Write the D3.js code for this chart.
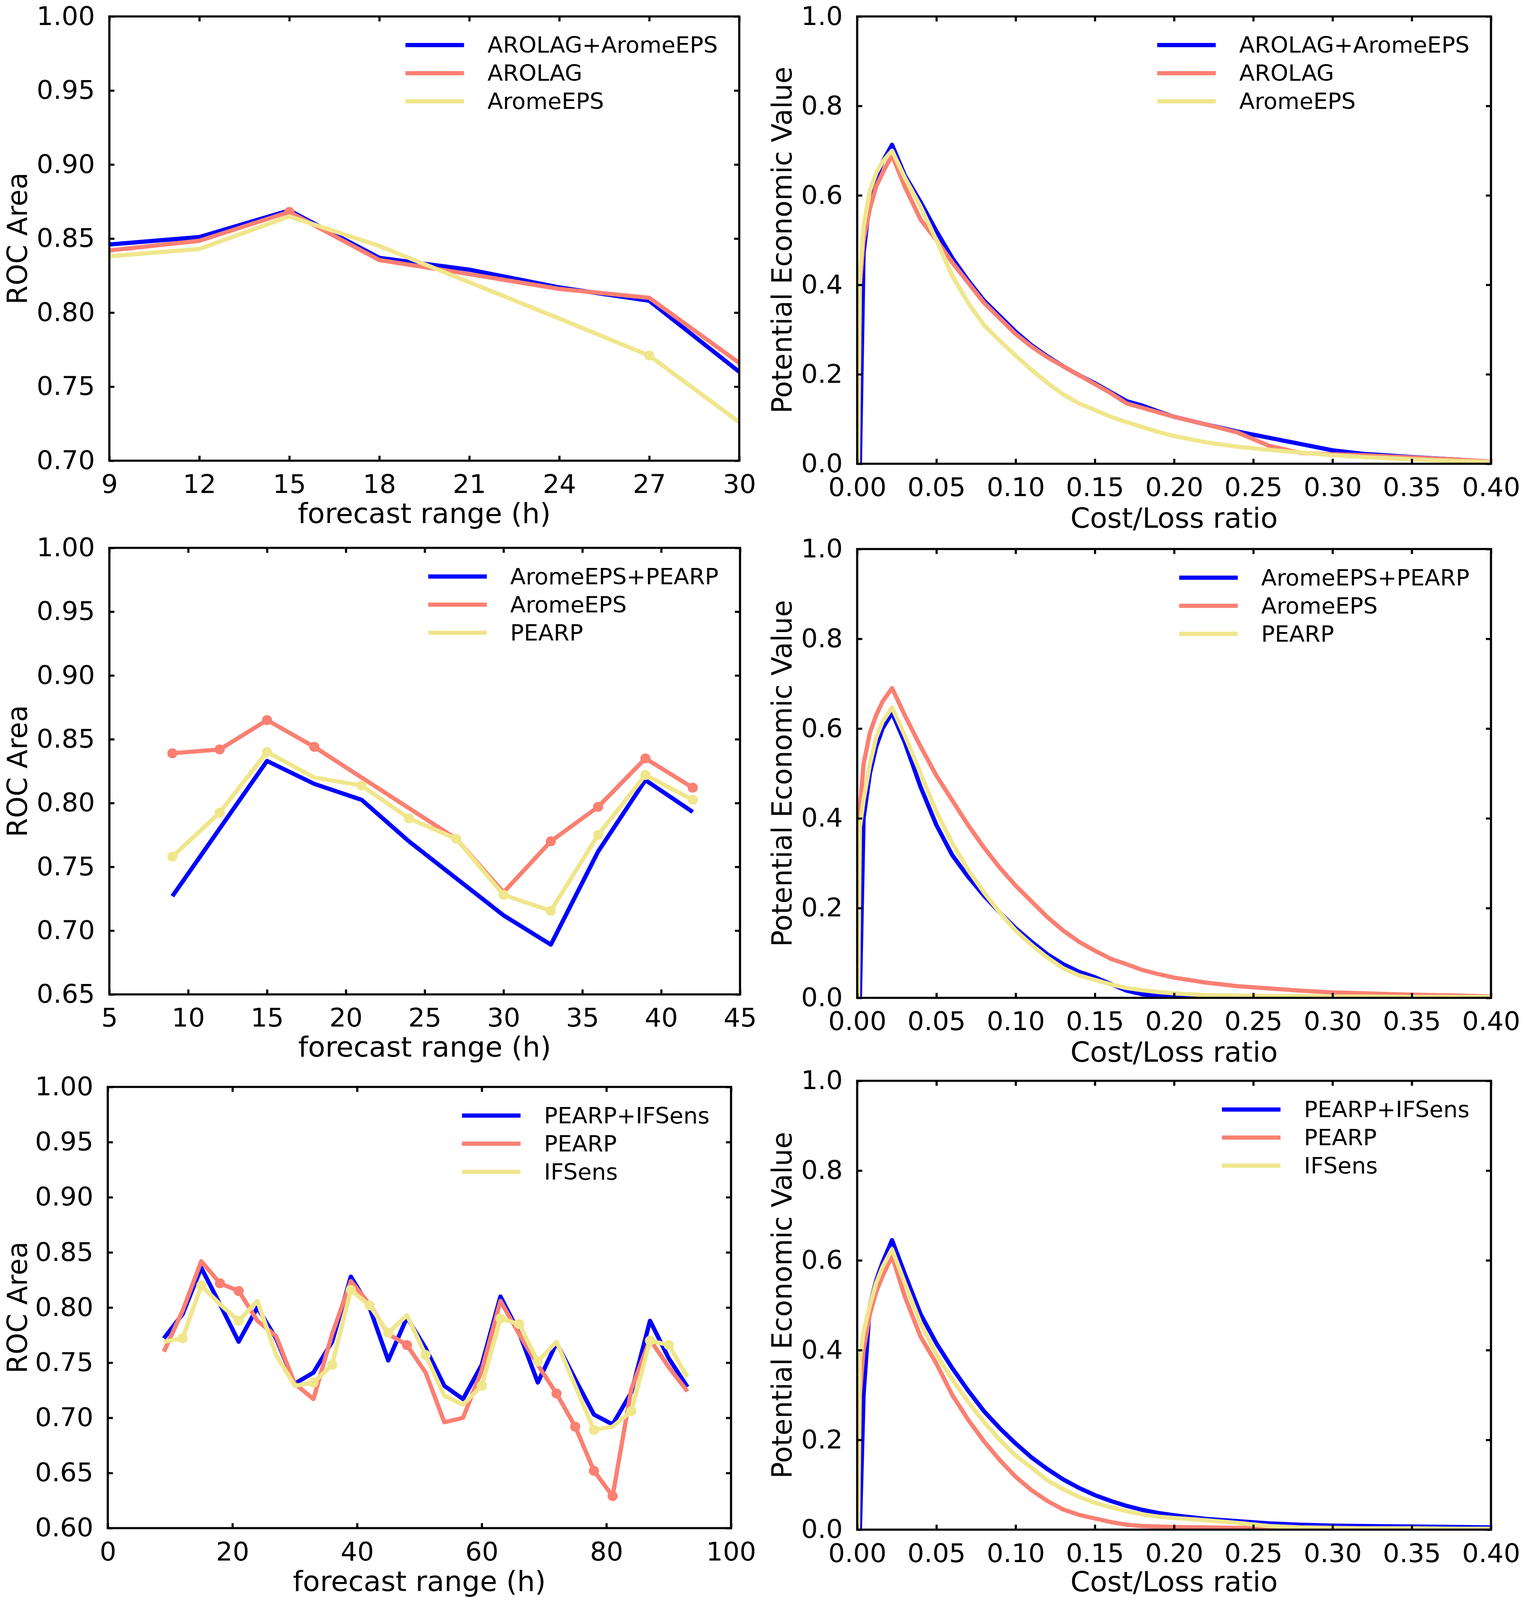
<!DOCTYPE html>
<html>
<head>
<meta charset="utf-8">
<script src="https://cdn.jsdelivr.net/npm/d3@7"></script>
<style>
  html, body { margin: 0; padding: 0; background: #fff; overflow: hidden; }
  svg { display: block; }
</style>
</head>
<body>
<svg id="chart"></svg>
<script>
// ---- data ----

// top row: AROLAG / AromeEPS
var hours1 = [9, 12, 15, 18, 21, 24, 27, 30];
var roc1Combined = [0.846, 0.851, 0.869, 0.837, 0.829, 0.817, 0.808, 0.760];
var roc1Arolag = [0.842, 0.8485, 0.868, 0.8355, 0.826, 0.816, 0.810, 0.766];
var roc1Arome = [0.838, 0.843, 0.865, 0.845, 0.8205, 0.796, 0.771, 0.726];
var marks1Arolag = [2];
var marks1Arome = [6];

// middle row: AromeEPS / PEARP
var hours2 = [9, 12, 15, 18, 21, 24, 27, 30, 33, 36, 39, 42];
var roc2Combined = [0.727, 0.780, 0.833, 0.815, 0.8025, 0.770, 0.741, 0.712, 0.689, 0.762, 0.818, 0.793];
var roc2Arome = [0.839, 0.842, 0.865, 0.844, 0.820, 0.796, 0.772, 0.730, 0.770, 0.797, 0.835, 0.812];
var roc2Pearp = [0.758, 0.7925, 0.840, 0.820, 0.8137, 0.788, 0.772, 0.728, 0.7155, 0.775, 0.822, 0.8025];
var marks2Arome = [0, 1, 2, 3, 8, 9, 10, 11];
var marks2Pearp = [0, 1, 2, 4, 5, 6, 7, 8, 9, 10, 11];

// bottom row: PEARP / IFSens
var hours3 = [9, 12, 15, 18, 21, 24, 27, 30, 33, 36, 39, 42, 45, 48, 51, 54, 57, 60, 63, 66, 69, 72, 75, 78, 81, 84, 87, 90, 93];
var roc3Combined = [0.772, 0.794, 0.836, 0.803, 0.769, 0.800, 0.772, 0.731, 0.741, 0.769, 0.828, 0.800, 0.752, 0.791, 0.763, 0.729, 0.717, 0.748, 0.810, 0.777, 0.732, 0.768, 0.735, 0.703, 0.694, 0.723, 0.788, 0.754, 0.728];
var roc3Pearp = [0.760, 0.797, 0.842, 0.822, 0.815, 0.788, 0.774, 0.731, 0.717, 0.776, 0.824, 0.803, 0.776, 0.766, 0.741, 0.696, 0.700, 0.743, 0.806, 0.776, 0.748, 0.722, 0.692, 0.652, 0.629, 0.726, 0.771, 0.746, 0.724];
var roc3Ifs = [0.769, 0.772, 0.820, 0.803, 0.788, 0.806, 0.757, 0.729, 0.732, 0.748, 0.816, 0.802, 0.777, 0.793, 0.757, 0.720, 0.712, 0.729, 0.790, 0.785, 0.751, 0.769, 0.729, 0.689, 0.692, 0.706, 0.770, 0.766, 0.737];
var marks3Pearp = [3, 4, 13, 21, 22, 23, 24];
var marks3Ifs = [1, 2, 4, 8, 9, 10, 11, 12, 14, 17, 18, 19, 20, 23, 25, 26, 27];

// potential economic value curves
var costLoss = [0.0005, 0.0017, 0.004, 0.008, 0.012, 0.016, 0.022, 0.03, 0.04, 0.05, 0.06, 0.07, 0.08, 0.09, 0.10, 0.11, 0.12, 0.13, 0.14, 0.15, 0.16, 0.17, 0.18, 0.19, 0.20, 0.22, 0.24, 0.26, 0.28, 0.30, 0.32, 0.35, 0.38, 0.40];

var pev1Combined = [0, 0, 0.47, 0.59, 0.64, 0.675, 0.713, 0.645, 0.585, 0.52, 0.46, 0.41, 0.365, 0.33, 0.295, 0.265, 0.24, 0.218, 0.198, 0.18, 0.16, 0.14, 0.13, 0.117, 0.105, 0.088, 0.072, 0.058, 0.044, 0.03, 0.022, 0.015, 0.009, 0.004];
var pev1Arolag = [0, 0.40, 0.50, 0.57, 0.62, 0.65, 0.69, 0.62, 0.546, 0.50, 0.45, 0.405, 0.36, 0.325, 0.29, 0.262, 0.238, 0.218, 0.198, 0.178, 0.158, 0.135, 0.125, 0.115, 0.105, 0.088, 0.07, 0.04, 0.024, 0.021, 0.019, 0.014, 0.009, 0.005];
var pev1Arome = [0, 0.42, 0.53, 0.61, 0.65, 0.675, 0.70, 0.64, 0.575, 0.50, 0.42, 0.36, 0.31, 0.275, 0.242, 0.21, 0.181, 0.155, 0.135, 0.12, 0.105, 0.093, 0.082, 0.071, 0.062, 0.048, 0.038, 0.031, 0.025, 0.019, 0.015, 0.01, 0.006, 0.004];

var pev2Combined = [0, 0, 0.40, 0.50, 0.56, 0.60, 0.635, 0.57, 0.47, 0.385, 0.318, 0.27, 0.228, 0.19, 0.155, 0.125, 0.097, 0.075, 0.058, 0.046, 0.031, 0.016, 0.008, 0.004, 0.002, 0.001, 0, 0, 0, 0, 0, 0, 0, 0];
var pev2Arome = [0, 0.42, 0.52, 0.59, 0.63, 0.66, 0.69, 0.63, 0.56, 0.495, 0.44, 0.385, 0.335, 0.29, 0.25, 0.215, 0.18, 0.15, 0.125, 0.105, 0.087, 0.075, 0.062, 0.053, 0.045, 0.034, 0.026, 0.021, 0.016, 0.012, 0.01, 0.007, 0.005, 0.003];
var pev2Pearp = [0, 0.38, 0.44, 0.52, 0.58, 0.615, 0.647, 0.585, 0.50, 0.415, 0.345, 0.285, 0.235, 0.19, 0.15, 0.118, 0.09, 0.066, 0.05, 0.04, 0.03, 0.022, 0.017, 0.013, 0.01, 0.006, 0.005, 0.004, 0.004, 0.003, 0.003, 0.002, 0.002, 0.002];

var pev3Combined = [0, 0, 0.30, 0.50, 0.555, 0.595, 0.645, 0.57, 0.48, 0.415, 0.36, 0.31, 0.264, 0.226, 0.192, 0.161, 0.135, 0.112, 0.093, 0.077, 0.064, 0.053, 0.044, 0.037, 0.032, 0.024, 0.019, 0.014, 0.011, 0.009, 0.008, 0.007, 0.006, 0.005];
var pev3Pearp = [0, 0.30, 0.40, 0.48, 0.53, 0.565, 0.61, 0.52, 0.43, 0.37, 0.3, 0.245, 0.197, 0.155, 0.118, 0.088, 0.064, 0.045, 0.033, 0.025, 0.017, 0.011, 0.008, 0.007, 0.006, 0.005, 0.004, 0.004, 0.003, 0.003, 0.003, 0.002, 0.002, 0.002];
var pev3Ifs = [0, 0.38, 0.44, 0.50, 0.55, 0.585, 0.625, 0.55, 0.46, 0.39, 0.335, 0.285, 0.24, 0.20, 0.165, 0.138, 0.11, 0.09, 0.073, 0.06, 0.05, 0.041, 0.034, 0.029, 0.026, 0.021, 0.015, 0.008, 0.005, 0.004, 0.003, 0.003, 0.002, 0.002];

// tick values
var xTicksTop = [9, 12, 15, 18, 21, 24, 27, 30];
var xTicksMid = [5, 10, 15, 20, 25, 30, 35, 40, 45];
var xTicksBot = [0, 20, 40, 60, 80, 100];
var yTicksTop = [0.70, 0.75, 0.80, 0.85, 0.90, 0.95, 1.00];
var yTicksMid = [0.65, 0.70, 0.75, 0.80, 0.85, 0.90, 0.95, 1.00];
var yTicksBot = [0.60, 0.65, 0.70, 0.75, 0.80, 0.85, 0.90, 0.95, 1.00];
var xTicksPev = [0, 0.05, 0.10, 0.15, 0.20, 0.25, 0.30, 0.35, 0.40];
var yTicksPev = [0, 0.2, 0.4, 0.6, 0.8, 1.0];

var names1 = ["AROLAG+AromeEPS", "AROLAG", "AromeEPS"];
var names2 = ["AromeEPS+PEARP", "AromeEPS", "PEARP"];
var names3 = ["PEARP+IFSens", "PEARP", "IFSens"];

// ---- drawing ----
var BLUE = "#0000ff", SALMON = "#fa8072", KHAKI = "#f0e68c";
var FONT = "DejaVu Sans";
var W = 3900, H = 4185;

// the layout is in 3900x4185 units; fit it to whatever viewport is visible
var vw = window.innerWidth || W, vh = window.innerHeight || H;
var svg = d3.select("#chart")
  .attr("width", vw)
  .attr("height", vh)
  .attr("viewBox", "0 0 " + W + " " + H)
  .attr("preserveAspectRatio", "none");
svg.append("rect").attr("width", W).attr("height", H).attr("fill", "#fff");

function series(names, x, ys, marks) {
  var cols = [BLUE, SALMON, KHAKI];
  return ys.map(function(y, i) {
    return { name: names[i], x: x, y: y, color: cols[i], marks: marks[i] || [] };
  });
}

var panels = [
  { left: 280, right: 1893, top: 43, bottom: 1205,
    xDomain: [9, 30], xTicks: xTicksTop, xFmt: d3.format("d"),
    yDomain: [0.70, 1.00], yTicks: yTicksTop, yFmt: d3.format(".2f"),
    xLabel: "forecast range (h)", yLabel: "ROC Area", yLabelX: 69, xLabelDy: 163,
    series: series(names1, hours1, [roc1Combined, roc1Arolag, roc1Arome], [[], marks1Arolag, marks1Arome]) },
  { left: 2195, right: 3818, top: 43, bottom: 1213,
    xDomain: [0, 0.4], xTicks: xTicksPev, xFmt: d3.format(".2f"),
    yDomain: [0, 1], yTicks: yTicksPev, yFmt: d3.format(".1f"),
    xLabel: "Cost/Loss ratio", yLabel: "Potential Economic Value", yLabelX: 2027, xLabelDy: 167,
    series: series(names1, costLoss, [pev1Combined, pev1Arolag, pev1Arome], []) },
  { left: 280, right: 1895, top: 1433, bottom: 2601,
    xDomain: [5, 45], xTicks: xTicksMid, xFmt: d3.format("d"),
    yDomain: [0.65, 1.00], yTicks: yTicksMid, yFmt: d3.format(".2f"),
    xLabel: "forecast range (h)", yLabel: "ROC Area", yLabelX: 69, xLabelDy: 163,
    series: series(names2, hours2, [roc2Combined, roc2Arome, roc2Pearp], [[], marks2Arome, marks2Pearp]) },
  { left: 2195, right: 3818, top: 1436, bottom: 2610,
    xDomain: [0, 0.4], xTicks: xTicksPev, xFmt: d3.format(".2f"),
    yDomain: [0, 1], yTicks: yTicksPev, yFmt: d3.format(".1f"),
    xLabel: "Cost/Loss ratio", yLabel: "Potential Economic Value", yLabelX: 2027, xLabelDy: 167,
    series: series(names2, costLoss, [pev2Combined, pev2Arome, pev2Pearp], []) },
  { left: 276, right: 1872, top: 2843, bottom: 3997,
    xDomain: [0, 100], xTicks: xTicksBot, xFmt: d3.format("d"),
    yDomain: [0.60, 1.00], yTicks: yTicksBot, yFmt: d3.format(".2f"),
    xLabel: "forecast range (h)", yLabel: "ROC Area", yLabelX: 69, xLabelDy: 164,
    series: series(names3, hours3, [roc3Combined, roc3Pearp, roc3Ifs], [[], marks3Pearp, marks3Ifs]) },
  { left: 2195, right: 3818, top: 2827, bottom: 4001,
    xDomain: [0, 0.4], xTicks: xTicksPev, xFmt: d3.format(".2f"),
    yDomain: [0, 1], yTicks: yTicksPev, yFmt: d3.format(".1f"),
    xLabel: "Cost/Loss ratio", yLabel: "Potential Economic Value", yLabelX: 2027, xLabelDy: 162,
    series: series(names3, costLoss, [pev3Combined, pev3Pearp, pev3Ifs], []) }
];

panels.forEach(function(p, idx) {
  var x = d3.scaleLinear().domain(p.xDomain).range([p.left, p.right]);
  var y = d3.scaleLinear().domain(p.yDomain).range([p.bottom, p.top]);
  var g = svg.append("g");

  var clipId = "clip" + idx;
  svg.append("clipPath").attr("id", clipId)
    .append("rect")
    .attr("x", p.left).attr("y", p.top)
    .attr("width", p.right - p.left).attr("height", p.bottom - p.top);

  // lines + markers
  var line = d3.line()
    .x(function(d) { return x(d[0]); })
    .y(function(d) { return y(d[1]); });
  var plot = g.append("g").attr("clip-path", "url(#" + clipId + ")");
  p.series.forEach(function(s) {
    var pts = s.x.map(function(v, i) { return [v, s.y[i]]; });
    plot.append("path")
      .datum(pts)
      .attr("d", line)
      .attr("fill", "none")
      .attr("stroke", s.color)
      .attr("stroke-width", 11)
      .attr("stroke-linejoin", "round");
    plot.selectAll(null)
      .data(s.marks.map(function(i) { return pts[i]; }))
      .enter()
      .append("circle")
      .attr("cx", function(d) { return x(d[0]); })
      .attr("cy", function(d) { return y(d[1]); })
      .attr("r", 13)
      .attr("fill", s.color);
  });

  // axes, ticks pointing inward on all four sides
  var tl = 13;
  var axes = [
    { ax: d3.axisBottom(x).tickValues(p.xTicks).tickFormat(p.xFmt).tickPadding(37), t: "translate(0," + p.bottom + ")" },
    { ax: d3.axisTop(x).tickValues(p.xTicks).tickFormat(""), t: "translate(0," + p.top + ")" },
    { ax: d3.axisLeft(y).tickValues(p.yTicks).tickFormat(p.yFmt).tickPadding(37), t: "translate(" + p.left + ",0)" },
    { ax: d3.axisRight(y).tickValues(p.yTicks).tickFormat(""), t: "translate(" + p.right + ",0)" }
  ];
  axes.forEach(function(a) {
    var ag = g.append("g")
      .attr("transform", a.t)
      .call(a.ax.tickSizeInner(-tl).tickSizeOuter(0));
    ag.attr("font-size", 67).attr("font-family", FONT);
    ag.select(".domain").remove();
    ag.selectAll(".tick line").attr("stroke", "#000").attr("stroke-width", 5.5);
    ag.selectAll(".tick text").attr("fill", "#000");
  });

  // frame
  g.append("rect")
    .attr("x", p.left).attr("y", p.top)
    .attr("width", p.right - p.left).attr("height", p.bottom - p.top)
    .attr("fill", "none")
    .attr("stroke", "#000")
    .attr("stroke-width", 5.5);

  // axis labels
  g.append("text")
    .attr("x", (p.left + p.right) / 2)
    .attr("y", p.bottom + p.xLabelDy)
    .attr("text-anchor", "middle")
    .attr("font-family", FONT)
    .attr("font-size", 72)
    .text(p.xLabel);
  g.append("text")
    .attr("transform", "translate(" + p.yLabelX + "," + (p.top + p.bottom) / 2 + ") rotate(-90)")
    .attr("text-anchor", "middle")
    .attr("font-family", FONT)
    .attr("font-size", 72)
    .text(p.yLabel);

  // legend, upper right, no frame
  var lg = g.append("g");
  var texts = p.series.map(function(s, i) {
    return lg.append("text")
      .attr("y", p.top + 75 + i * 73.5)
      .attr("dy", "0.35em")
      .attr("font-family", FONT)
      .attr("font-size", 58)
      .text(s.name);
  });
  var w = d3.max(texts, function(t) { return t.node().getComputedTextLength(); });
  var tx = p.right - 55 - w;
  texts.forEach(function(t) { t.attr("x", tx); });
  p.series.forEach(function(s, i) {
    lg.append("line")
      .attr("x1", tx - 210).attr("x2", tx - 60)
      .attr("y1", p.top + 75 + i * 73.5).attr("y2", p.top + 75 + i * 73.5)
      .attr("stroke", s.color)
      .attr("stroke-width", 11);
  });
});
</script>
</body>
</html>
